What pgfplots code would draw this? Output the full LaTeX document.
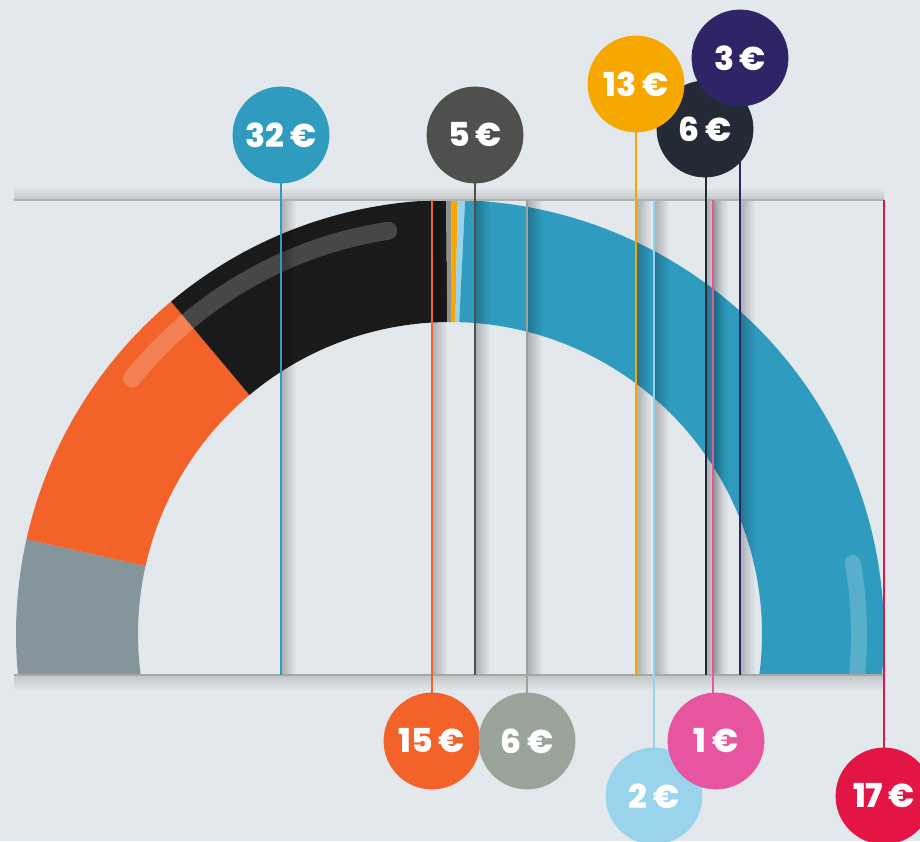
\documentclass[border=0pt]{standalone}
\usepackage{pgfplots}
\pgfplotsset{compat=1.18}
\usepackage{fontspec}
\setmainfont{Poppins}[BoldFont={Poppins ExtraBold}]
\usetikzlibrary{fadings,calc}
\definecolor{bg}{HTML}{E3E8EC}
\definecolor{cblue}{HTML}{2E9BBF}
\definecolor{cdgray}{HTML}{4F4F4D}
\definecolor{cyellow}{HTML}{F6A800}
\definecolor{cnavy}{HTML}{232A36}
\definecolor{cpurple}{HTML}{2E2466}
\definecolor{corange}{HTML}{F26229}
\definecolor{cgreen}{HTML}{9BA49A}
\definecolor{clblue}{HTML}{9AD4EC}
\definecolor{cpink}{HTML}{E8559F}
\definecolor{cred}{HTML}{E21544}
\definecolor{rgray}{HTML}{84959B}
\definecolor{rblack}{HTML}{1A1A1A}
\definecolor{rthin}{HTML}{8F928C}
\definecolor{hlblue}{HTML}{58AFCC}
\definecolor{bandgray}{HTML}{C3C6C6}
\tikzfading[name=fadeR, left color=transparent!0, right color=transparent!100]
% ring segment: colour, outer start, outer end, inner start, inner end
\newcommand\seg[5]{\fill[#1] (axis cs:450,207) ++(#2:434) arc[start angle=#2, end angle=#3, radius=434] -- ($(axis cs:450,207)+(#5:312)$) arc[start angle=#5, end angle=#4, radius=312] -- cycle;}
\newcommand\vstrip[1]{\fill[black, fill opacity=0.25, path fading=fadeR] (axis cs:#1,166) rectangle (axis cs:#1+15,641);}
\pgfplotsset{bub/.style={only marks, mark=*, mark size=24pt, mark options={draw=#1, fill=#1},
  nodes near coords align=center,
  every node near coord/.append style={text=white, font=\bfseries\fontsize{16.5}{16.5}\selectfont, anchor=center, inner sep=0pt}},
  vl/.style={#1, line width=0.8pt, no marks}}
\begin{document}
\begin{tikzpicture}
\begin{axis}[x=0.5pt, y=0.5pt, xmin=0, xmax=920, ymin=0, ymax=841, hide axis,
  disabledatascaling, scale only axis, clip marker paths=true]
\fill[bg] (axis cs:0,0) rectangle (axis cs:920,841);
% ring (angles in degrees)
\seg{rgray}{167.4}{185.4}{167.4}{187.55}
\seg{corange}{130}{167.4}{130}{167.4}
\seg{rblack}{90.5}{130}{90.5}{130}
\seg{rthin}{89.8}{90.5}{89.8}{90.5}
\seg{cyellow}{89.0}{89.8}{89.0}{89.8}
\seg{clblue}{88.0}{89.0}{88.3}{89.0}
\seg{cblue}{88.0}{-5.4}{88.3}{-7.55}
% highlights
\draw[white, opacity=0.2, line width=9pt, line cap=round] (axis cs:450,207) ++(141.2:408) arc[start angle=141.2, end angle=98.7, radius=408];
\draw[hlblue, line width=8pt, line cap=round] (axis cs:450,207) ++(10:409) arc[start angle=10, end angle=-6, radius=409];
% shadow strips
\vstrip{281}\vstrip{432}\vstrip{475}\vstrip{527}\vstrip{636}\vstrip{654}\vstrip{706}\vstrip{713}\vstrip{740}
% bands
\fill[bg] (axis cs:0,150) rectangle (axis cs:920,166);
\fill[top color=bg, bottom color=bandgray] (axis cs:14,641) rectangle (axis cs:884,654);
\draw[bandgray!90!black, line width=0.8pt] (axis cs:14,641) -- (axis cs:884,641);
\fill[top color=bandgray, bottom color=bg] (axis cs:14,150) rectangle (axis cs:884,166);
\draw[bandgray!85!black, line width=0.8pt] (axis cs:14,166) -- (axis cs:884,166);
% leader lines
\addplot[vl=cblue] coordinates {(281,706) (281,166)};
\addplot[vl=cdgray] coordinates {(475,706) (475,166)};
\addplot[vl=cyellow] coordinates {(636,757) (636,166)};
\addplot[vl=cnavy] coordinates {(706,712) (706,166)};
\addplot[vl=cpurple] coordinates {(740,783) (740,166)};
\addplot[vl=corange] coordinates {(432,641) (432,100)};
\addplot[vl=cgreen] coordinates {(527,641) (527,100)};
\addplot[vl=clblue] coordinates {(654,641) (654,45)};
\addplot[vl=cpink] coordinates {(713,641) (713,100)};
\addplot[vl=cred] coordinates {(884,641) (884,45)};
% bubbles
\addplot[bub=cblue, nodes near coords={32\,€}] coordinates {(281,706)};
\addplot[bub=cdgray, nodes near coords={5\,€}] coordinates {(475,706)};
\addplot[bub=cnavy, nodes near coords={6\,€}] coordinates {(705,712)};
\addplot[bub=cyellow, nodes near coords={13\,€}] coordinates {(636,757)};
\addplot[bub=cpurple, nodes near coords={3\,€}] coordinates {(740,783)};
\addplot[bub=corange, nodes near coords={15\,€}] coordinates {(432,100)};
\addplot[bub=cgreen, nodes near coords={6\,€}] coordinates {(527,100)};
\addplot[bub=clblue, nodes near coords={2\,€}] coordinates {(654,45)};
\addplot[bub=cpink, nodes near coords={1\,€}] coordinates {(716,100)};
\addplot[bub=cred, nodes near coords={17\,€}] coordinates {(884,45)};
\end{axis}
\end{tikzpicture}
\end{document}
